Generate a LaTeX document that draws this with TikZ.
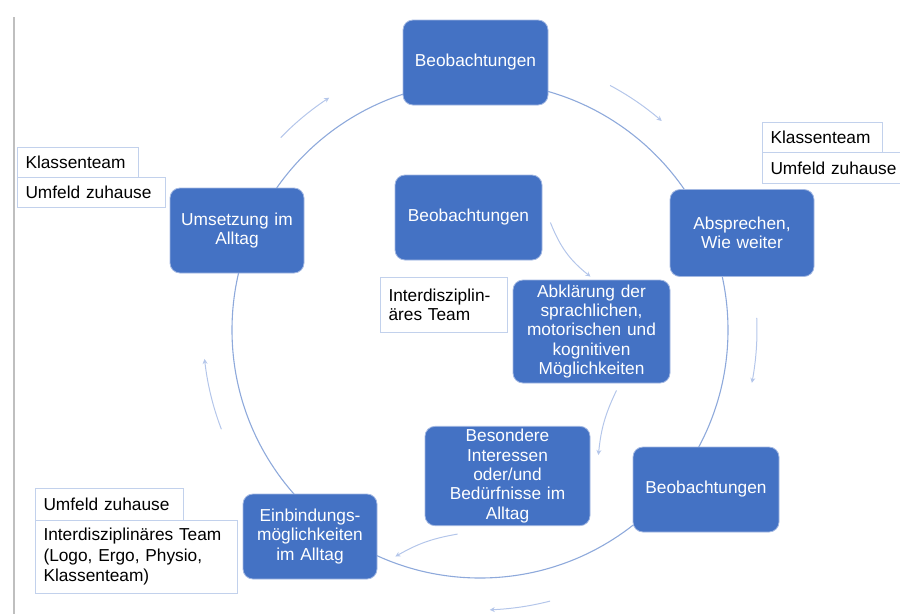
\documentclass[tikz,border=0pt]{standalone}
\usepackage{fontspec}
\setmainfont{Liberation Sans}
\usetikzlibrary{calc,arrows.meta}
\definecolor{boxblue}{HTML}{4472C4}
\definecolor{boxedge}{HTML}{A3B8E2}
\definecolor{ringblue}{HTML}{8EA9DB}
\definecolor{arrowblue}{HTML}{B4C6EA}
\definecolor{labeledge}{HTML}{C2D1EC}
\definecolor{pagegray}{HTML}{BFBFBF}
\begin{document}
\begin{tikzpicture}[x=1pt,y=-1pt,
  bluebox/.style={draw=boxedge, line width=0.8pt, fill=boxblue, rounded corners=10pt,
    text=white, align=center, inner sep=3pt, font=\fontsize{17.3}{19.3}\selectfont},
  labelbox/.style={draw=labeledge, line width=1pt, fill=white, anchor=north west,
    align=left, inner xsep=8pt, inner ysep=0pt, text=black, font=\fontsize{17.3}{20.5}\selectfont},
  flowarrow/.style={draw=arrowblue, line width=1pt, -{Stealth[length=5pt,width=5pt]}},
  ring/.style={draw=ringblue, line width=1.1pt}]
\useasboundingbox (0,0) rectangle (900,614);
\draw[pagegray, line width=1.5pt] (14,17) -- (14,614);
\coordinate (c) at (480,330);
\draw[ring] (c) circle[radius=248];

% outer cycle boxes
\node[bluebox, minimum width=145pt, minimum height=85pt, text width=139pt] (top) at (475.5,62.5) {Beobachtungen};
\node[bluebox, minimum width=144pt, minimum height=87pt, text width=138pt] (abs) at (742,233) {Absprechen,\\Wie weiter};
\node[bluebox, minimum width=146pt, minimum height=85pt, text width=140pt] (rb) at (706,489.5) {Beobachtungen};
\node[bluebox, minimum width=134pt, minimum height=85pt, text width=128pt] (eb) at (310,536.5) {Einbindungs-\\möglichkeiten\\im Alltag};
\node[bluebox, minimum width=134pt, minimum height=85pt, text width=128pt] (us) at (237,230.5) {Umsetzung im\\Alltag};

% inner boxes
\node[bluebox, minimum width=147pt, minimum height=85pt, text width=141pt] (ib) at (468.5,217.5) {Beobachtungen};
\node[bluebox, minimum width=157pt, minimum height=103pt, text width=151pt] (ab) at (591.5,331.5) {Abklärung der\\sprachlichen,\\motorischen und\\kognitiven\\Möglichkeiten};
\node[bluebox, minimum width=165pt, minimum height=98pt, text width=159pt] (bs) at (507.5,476) {Besondere\\Interessen\\oder/und\\Bedürfnisse im\\Alltag};

% label boxes
\node[labelbox, text width=105pt, minimum height=30pt] (l1) at (17,147) {Klassenteam};
\node[labelbox, text width=132pt, minimum height=30pt] (l2) at (17,177) {Umfeld zuhause};
\node[labelbox, text width=104pt, minimum height=30pt] (r1) at (762,122) {Klassenteam};
\node[labelbox, text width=130pt, minimum height=31pt] (r2) at (762,152) {Umfeld zuhause};
\node[labelbox, text width=111pt, minimum height=55pt, font=\fontsize{17.3}{18.5}\selectfont] (it) at (380,277) {Interdisziplin-\\äres Team};
\node[labelbox, text width=132pt, minimum height=32pt] (b1) at (35,488) {Umfeld zuhause};
\node[labelbox, text width=186pt, minimum height=73pt] (b2) at (35,520) {Interdisziplinäres Team\\(Logo, Ergo, Physio,\\Klassenteam)};

% outer cycle arrows
\draw[flowarrow] plot[domain=224:237, samples=20] ({480+277*cos(\x)},{330+277*sin(\x)});
\draw[flowarrow] plot[domain=-62:-49, samples=20] ({480+277*cos(\x)},{330+277*sin(\x)});
\draw[flowarrow] plot[domain=-2.5:11, samples=20] ({480+277*cos(\x)},{330+277*sin(\x)});
\draw[flowarrow] plot[domain=75.5:88, samples=20] ({480+280*cos(\x)},{330+280*sin(\x)});
\draw[flowarrow] plot[domain=159:174, samples=20] ({480+277*cos(\x)},{330+277*sin(\x)});

% inner arrows
\draw[flowarrow] ($(ib.east)+(8,5)$) to[bend right=15] ($(ab.north)+(-1,-3)$);
\draw[flowarrow] ($(ab.south)+(25,7)$) to[bend right=10] ($(bs.east)+(8,-21)$);
\draw[flowarrow] ($(bs.south west)+(33,8)$) to[bend right=10] ($(eb.east)+(18,20)$);
\end{tikzpicture}
\end{document}
